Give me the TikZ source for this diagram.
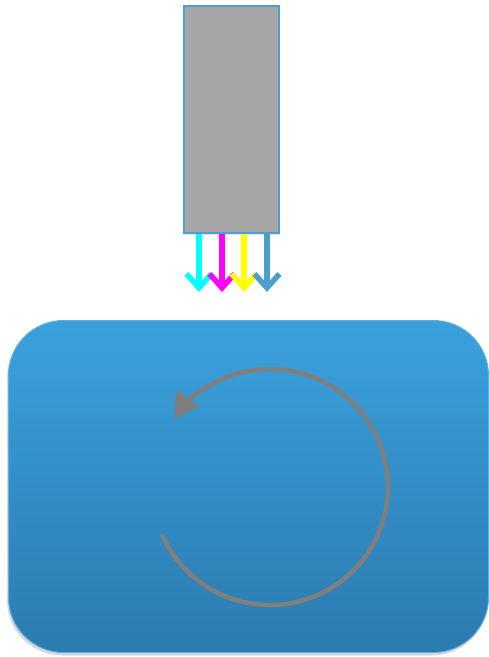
\documentclass[tikz,border=0pt]{standalone}
\usetikzlibrary{arrows.meta,shadows}
\definecolor{srcgray}{HTML}{A6A6A6}
\definecolor{edgeblue}{HTML}{4A9FD4}
\definecolor{boxtop}{HTML}{3AA1DD}
\definecolor{boxbot}{HTML}{2C7BAF}
\definecolor{boxedge}{HTML}{5AB2E2}
\definecolor{arcgray}{HTML}{7F7F7F}
\definecolor{beamcyan}{HTML}{00FFFF}
\definecolor{beammag}{HTML}{FF00FF}
\definecolor{beamyel}{HTML}{FFFF00}
\definecolor{beamblue}{HTML}{4A9FD0}
\tikzset{
  srcbox/.style={draw=edgeblue, line width=2pt, fill=srcgray, minimum width=95pt, minimum height=227pt, anchor=north west, inner sep=0pt,
    drop shadow={shadow xshift=1pt, shadow yshift=-2pt, opacity=0.2}},
  bodybox/.style={draw=boxedge, line width=1pt, top color=boxtop, bottom color=boxbot, rounded corners=55pt,
    minimum width=480pt, minimum height=332pt, anchor=north west, inner sep=0pt,
    drop shadow={shadow xshift=-1.5pt, shadow yshift=-3pt, opacity=0.3}},
  beam/.style={line width=5.5pt, -{Straight Barb[length=14pt,width=25pt,line width=5.5pt]}},
  turn/.style={draw=arcgray, line width=4.5pt, -{Triangle[length=26pt,width=27pt]}}
}
\begin{document}
\begin{tikzpicture}[x=1pt,y=-1pt]
\useasboundingbox (0,0) rectangle (489,657);
\node[bodybox] (body) at (8,320) {};
\node[srcbox] (src) at (183,5) {};
\coordinate (t1) at (199,292);
\coordinate (t2) at (222,292);
\coordinate (t3) at (244,292);
\coordinate (t4) at (267,292);
\draw[beam, beamcyan] (src.south -| t1) -- (t1);
\draw[beam, beammag] (src.south -| t2) -- (t2);
\draw[beam, beamyel] (src.south -| t3) -- (t3);
\draw[beam, beamblue] (src.south -| t4) -- (t4);
\coordinate (ctr) at (270,487);
\draw[turn] (ctr) ++(156:118) arc[start angle=156, end angle=-145, radius=118];
\end{tikzpicture}
\end{document}
